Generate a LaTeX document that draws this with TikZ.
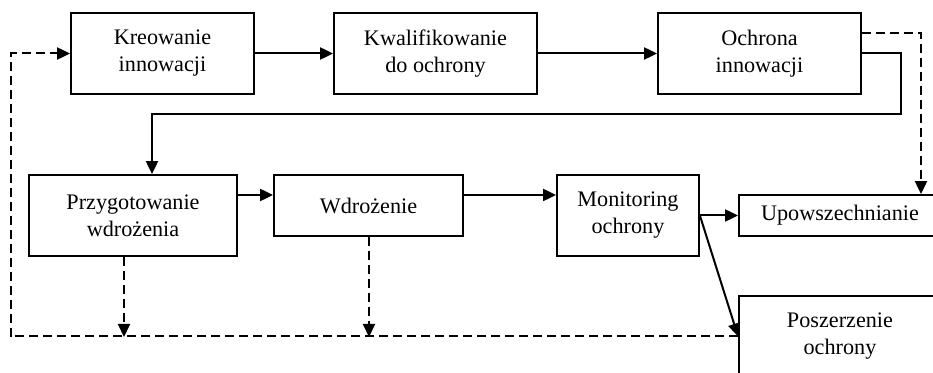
\documentclass[tikz,border=0pt]{standalone}
\usepackage{fontspec}
\setmainfont{Liberation Serif}
\usetikzlibrary{arrows.meta}
\begin{document}
\begin{tikzpicture}[x=0.5pt,y=-0.5pt,
  box/.style={draw,line width=0.9pt,inner sep=0pt,align=center,font=\fontsize{11.1}{13.5}\selectfont},
  conn/.style={line width=1pt,-{Triangle[length=6.5pt,width=6pt]}},
  dconn/.style={conn,dash pattern=on 4.5pt off 2.5pt},
  dline/.style={line width=1pt,dash pattern=on 4.5pt off 2.5pt}]
\useasboundingbox (0,0) rectangle (933,373);
\clip (0,0) rectangle (933,373);
\node[box,minimum width=91.5pt,minimum height=40.5pt] (kre) at (162.5,53.5) {Kreowanie\\innowacji};
\node[box,minimum width=101.5pt,minimum height=40.5pt] (kwa) at (435.5,53.5) {Kwalifikowanie\\do ochrony};
\node[box,minimum width=101.5pt,minimum height=40.5pt] (och) at (759.5,53.5) {Ochrona\\innowacji};
\node[box,minimum width=104pt,minimum height=40.5pt] (prz) at (133,215.5) {Przygotowanie\\wdrożenia};
\node[box,minimum width=94.5pt,minimum height=30.5pt] (wdr) at (368.5,205.5) {Wdrożenie};
\node[box,minimum width=71pt,minimum height=40.5pt] (mon) at (628,215.5) {Monitoring\\ochrony};
\node[box,minimum width=101pt,minimum height=20.5pt] (upo) at (840,215.5) {Upowszechnianie};
\node[box,minimum width=101pt,minimum height=40.5pt] (pos) at (840,336.5) {Poszerzenie\\ochrony};
\coordinate (c1) at (901,114);
\coordinate (c2) at (152,114);
\coordinate (d1) at (921,33);
\coordinate (r2) at (0,195);
\coordinate (b1) at (124,337);
\coordinate (b2) at (369,337);
\coordinate (l1) at (11,337);
\draw[conn] (kre) -- (kwa);
\draw[conn] (kwa) -- (och);
\draw[conn] (och.east) -| (c1) -- (c2) -- (c2 |- prz.north);
\draw[dconn] (d1 -| och.east) -- (d1) -- (d1 |- upo.north);
\draw[conn] (prz.east |- r2) -- (wdr.west |- r2);
\draw[conn] (wdr.east |- r2) -- (mon.west |- r2);
\draw[conn] (mon.east) -- (upo.west);
\draw[conn] (mon.east) -- (pos.west);
\draw[dconn] (b1 |- prz.south) -- (b1);
\draw[dconn] (b2 |- wdr.south) -- (b2);
\draw[dconn] (pos.west) -| (l1) |- (kre.west);
\end{tikzpicture}
\end{document}
